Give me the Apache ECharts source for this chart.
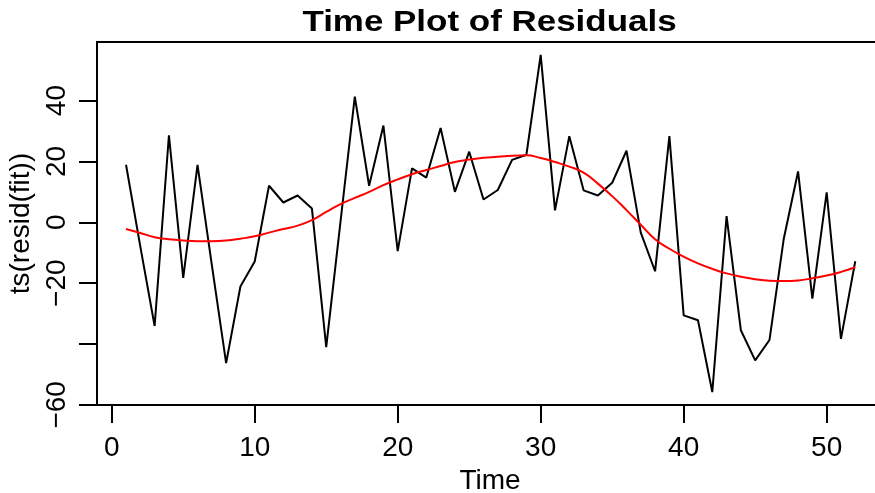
<!DOCTYPE html>
<html>
<head>
<meta charset="utf-8">
<script src="https://cdn.jsdelivr.net/npm/echarts@6/dist/echarts.min.js"></script>
<style>
html,body{margin:0;padding:0;background:#fff;}
#chart{width:875px;height:493px;}
</style>
</head>
<body>
<div id="chart"></div>
<script>
var time = [1,2,3,4,5,6,7,8,9,10,11,12,13,14,15,16,17,18,19,20,21,22,23,24,25,26,
            27,28,29,30,31,32,33,34,35,36,37,38,39,40,41,42,43,44,45,46,47,48,49,50,51,52];
var residuals = [18.9,-8,-34.1,28.6,-18.3,18.9,-14,-46.3,-21.1,-12.9,12.0,6.5,8.8,4.5,-41.0,0.2,41.3,
                 12.0,31.8,-9.5,17.7,14.7,31.0,10.0,23.2,7.5,10.6,20.5,22.2,55.0,3.9,28.3,10.5,8.8,
                 13.0,23.5,-3.4,-16.1,28.3,-30.6,-32.2,-55.8,2.0,-35.5,-45.4,-38.7,-5.4,16.7,-25.1,9.8,-38.3,-12.8];
var smooth = [-2.2,-3.5,-4.9,-5.6,-6.0,-6.2,-6.2,-6.0,-5.4,-4.6,-3.4,-2.2,-1.1,0.7,3.4,6.0,8.0,
              10.0,12.2,14.1,15.8,17.2,18.5,19.8,20.6,21.2,21.5,21.9,22.0,21.1,19.8,18.3,16.3,12.7,
              8.6,4.0,-0.8,-5.6,-8.7,-11.3,-13.5,-15.3,-16.8,-17.9,-18.7,-19.2,-19.3,-19.1,-18.4,-17.5,-16.3,-14.8];
var xTicks = [0,10,20,30,40,50];
var yTicks = [-60,-40,-20,0,20,40];
var yTickLabels = ["\u221260","","\u221220","0","20","40"];
var titleText = 'Time Plot of Residuals';
var xName = 'Time';
var yName = 'ts(resid(fit))';

var font = "Liberation Sans";
var chart = echarts.init(document.getElementById('chart'));
chart.setOption({
  animation:false,
  backgroundColor:'#fff',
  graphic:[{
    type:'text', x:489.5, y:22.5, scaleX:1.165, scaleY:1,
    style:{text:titleText, font:'bold 30px "Liberation Sans"', fill:'#000', align:'center', verticalAlign:'middle'}
  }],
  grid:{left:97,top:42,bottom:88,right:0,show:false,outerBoundsMode:'none',containLabel:false},
  xAxis:[{
    type:'value', min:-1.03, max:53.38, position:'bottom',
    name:xName, nameLocation:'middle', nameGap:58,
    nameTextStyle:{fontFamily:font,fontSize:28,color:'#000',padding:[0,0,0,8]},
    splitLine:{show:false},
    axisLine:{show:true,onZero:false,lineStyle:{color:'#000',width:2}},
    axisTick:{show:true,inside:false,length:18,lineStyle:{color:'#000',width:2},customValues:xTicks},
    axisLabel:{fontFamily:font,fontSize:28,color:'#000',margin:29,customValues:xTicks}
  },{
    type:'value', min:-1.03, max:53.38, position:'top',
    splitLine:{show:false},
    axisLine:{show:true,onZero:false,lineStyle:{color:'#000',width:2}},
    axisTick:{show:false}, axisLabel:{show:false}
  }],
  yAxis:{
    type:'value', min:-60.05, max:59.25,
    name:yName, nameLocation:'middle', nameGap:48, nameRotate:90,
    nameTextStyle:{fontFamily:font,fontSize:28,color:'#000'},
    splitLine:{show:false},
    axisLine:{show:true,onZero:false,lineStyle:{color:'#000',width:2}},
    axisTick:{show:true,inside:false,length:18,lineStyle:{color:'#000',width:2},customValues:yTicks},
    axisLabel:{fontFamily:font,fontSize:28,color:'#000',margin:26,rotate:90,customValues:yTicks,
      formatter:function(v){var i=yTicks.indexOf(Math.round(v));return i>=0?yTickLabels[i]:'';}}
  },
  series:[
    {type:'line',xAxisIndex:0,data:time.map(function(t,i){return [t,residuals[i]];}),symbol:'none',
     lineStyle:{color:'#000',width:2},itemStyle:{color:'#000'}},
    {type:'line',xAxisIndex:0,data:time.map(function(t,i){return [t,smooth[i]];}),symbol:'none',smooth:true,
     lineStyle:{color:'#ff0000',width:2},itemStyle:{color:'#ff0000'}}
  ]
});
</script>
</body>
</html>
